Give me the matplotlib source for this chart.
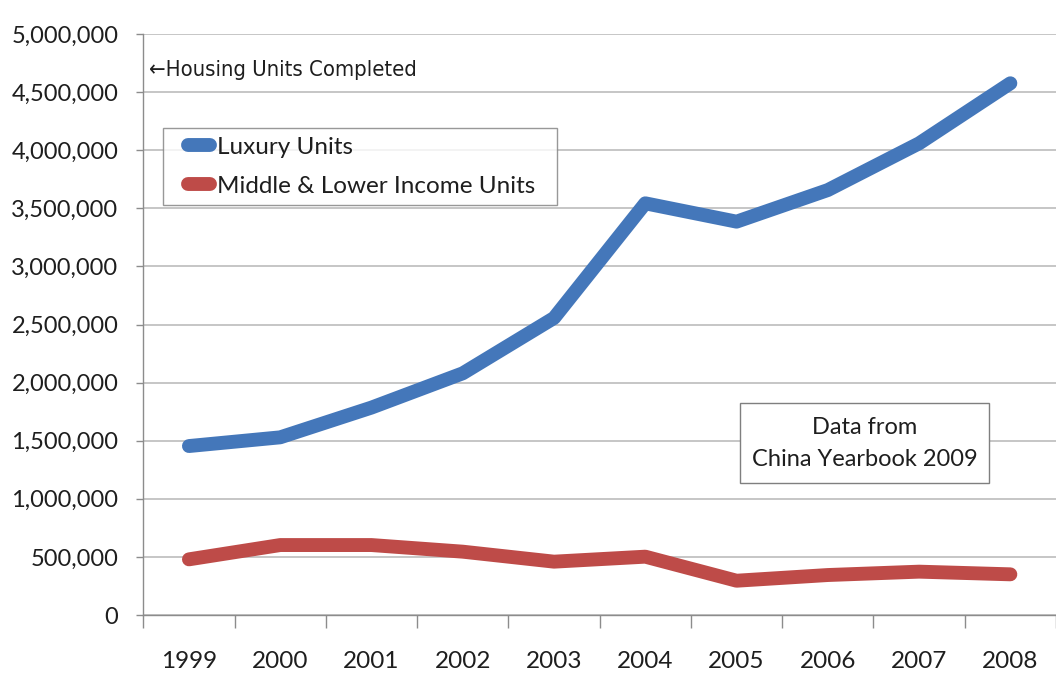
import matplotlib
matplotlib.use("Agg")
import matplotlib.pyplot as plt
from matplotlib import font_manager as fm
from matplotlib.patches import Rectangle
from matplotlib.ticker import FuncFormatter, FixedLocator
from matplotlib.legend_handler import HandlerLine2D

# Housing units completed in China, by year
years = ["1999", "2000", "2001", "2002", "2003", "2004", "2005", "2006", "2007", "2008"]
luxury_units = [1454000, 1529000, 1785000, 2080000, 2556000, 3543000, 3385000, 3657000, 4059000, 4576000]
middle_lower_units = [479000, 602000, 602000, 545000, 459000, 502000, 295000, 344000, 373000, 350000]

W, H = 1056, 681
fig = plt.figure(figsize=(W / 100, H / 100), dpi=100, facecolor="white")


def fx(x):
    return x / W


def fy(y):
    return 1 - y / H


# pick a narrow face for the caption if one is installed
installed = {f.name for f in fm.fontManager.ttflist}
narrow_files = [f for f in fm.fontManager.ttflist
                if f.name == "DejaVu Sans" and "condensed" in str(f.stretch).lower()]
if "Liberation Sans Narrow" in installed:
    caption_kw = dict(family=["Liberation Sans Narrow", "DejaVu Sans"], fontsize=16.8)
elif narrow_files:
    caption_kw = dict(family=["DejaVu Sans"], fontstretch="condensed", fontsize=15.8)
else:
    caption_kw = dict(family=["Roboto", "DejaVu Sans"], fontsize=15)

left, right, top, bottom = 143.3, 1056, 34, 615
ax = fig.add_axes([fx(left), fy(bottom), fx(right) - fx(left), fy(top) - fy(bottom)])
ax.set_facecolor("white")

body_font = ["Lato", "DejaVu Sans"]
grid_color = "#BCBCBC"
axis_color = "#8C8C8C"
text_color = "#1E1E1E"

xs = list(range(len(years)))
ax.plot(xs, luxury_units, color="#4477BA", lw=10, solid_capstyle="round",
        solid_joinstyle="round", label="Luxury Units", zorder=3)
ax.plot(xs, middle_lower_units, color="#BE4B48", lw=10, solid_capstyle="round",
        solid_joinstyle="round", label="Middle & Lower Income Units", zorder=3)

ax.set_xlim(-0.5, len(years) - 0.5)
ax.set_ylim(0, 5000000)
ax.set_yticks(range(0, 5000001, 500000))
ax.yaxis.set_major_formatter(FuncFormatter(lambda v, p: f"{int(v):,}"))
ax.grid(axis="y", color=grid_color, lw=1.2)
ax.set_axisbelow(True)

ax.set_xticks(xs)
ax.set_xticklabels(years)
ax.xaxis.set_minor_locator(FixedLocator([i + 0.5 for i in range(-1, len(years))]))
ax.tick_params(axis="x", which="major", length=0, pad=26, labelsize=17.5, labelcolor=text_color)
ax.tick_params(axis="x", which="minor", length=9, width=1, color=axis_color, direction="out")
ax.tick_params(axis="y", length=5, width=1, color=axis_color, pad=13, labelsize=17,
               labelcolor=text_color)
for lab in ax.get_xticklabels() + ax.get_yticklabels():
    lab.set_family(body_font)

for side in ("top", "right"):
    ax.spines[side].set_visible(False)
for side in ("left", "bottom"):
    ax.spines[side].set_color(axis_color)
    ax.spines[side].set_linewidth(1)

# Axis caption
fig.text(fx(149), fy(70), "\u2190Housing Units Completed", ha="left", va="center",
         color=text_color, **caption_kw)

# Series legend
leg_size = 17.5
leg = ax.legend(loc="upper left",
                bbox_to_anchor=(fx(162.7), fy(205), fx(556.7) - fx(162.7), fy(128.3) - fy(205)),
                bbox_transform=fig.transFigure, mode="expand", borderaxespad=0,
                frameon=True, fancybox=False, handlelength=1.62, handletextpad=0.29,
                borderpad=0.34, labelspacing=0.74,
                handler_map={matplotlib.lines.Line2D: HandlerLine2D(xpad=0.72)},
                prop={"family": body_font, "size": leg_size})
leg.get_frame().set_edgecolor("#7F7F7F")
leg.get_frame().set_linewidth(1)
for txt in leg.get_texts():
    txt.set_color(text_color)

# Source note
fig.patches.append(Rectangle((fx(740), fy(482.7)), fx(989.3) - fx(740), fy(402.7) - fy(482.7),
                             transform=fig.transFigure, facecolor="white",
                             edgecolor="#7F7F7F", lw=1, zorder=4))
fig.text(fx(864.7), fy(427), "Data from", ha="center", va="center", fontsize=17,
         color=text_color, family=body_font, zorder=5)
fig.text(fx(864.7), fy(460), "China Yearbook 2009", ha="center", va="center", fontsize=17,
         color=text_color, family=body_font, zorder=5)

fig.savefig("out.png", dpi=100, facecolor="white")
